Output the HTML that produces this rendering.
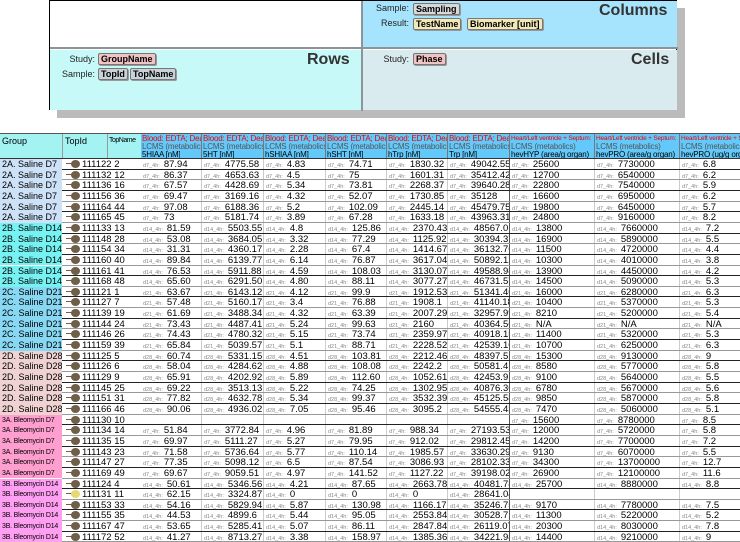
<!DOCTYPE html>
<html><head><meta charset="utf-8">
<style>
body{margin:0;width:740px;height:541px;overflow:hidden;background:#fff;font-family:"Liberation Sans",sans-serif;position:relative}
.a{position:absolute;white-space:nowrap}
.pill{position:absolute;height:10px;line-height:10px;font-size:9px;font-weight:bold;border:1px solid #777;border-radius:2px;padding:0 2px;box-shadow:1px 1px 0 #999;white-space:nowrap}
.lbl{position:absolute;font-size:9px;color:#222;text-align:right;width:60px}
.big{position:absolute;font-size:16px;font-weight:bold;color:#333;font-family:"Liberation Sans",sans-serif}
.pre{font-size:5.5px;color:#888;margin-right:4px}
.hd{position:absolute;font-size:8px;line-height:8.5px;overflow:hidden;white-space:nowrap;letter-spacing:-0.2px}
</style></head><body>
<div class="a" style="left:57px;top:8px;width:628px;height:110px;background:#bbb"></div>
<div class="a" style="left:49px;top:0;width:628px;height:110px;border:1px solid #000;box-sizing:border-box;background:#fff">
 <div class="a" style="left:312px;top:0;width:315px;height:46px;background:#a6e3fd"></div>
 <div class="a" style="left:0;top:49px;width:311px;height:60px;background:#c6f9f7"></div>
 <div class="a" style="left:313px;top:49px;width:314px;height:60px;background:#d9ebef"></div>
 <div class="a" style="left:0;top:46px;width:628px;height:2px;background:#8a9499"></div>
 <div class="a" style="left:311px;top:0;width:2px;height:110px;background:#8a9499"></div>
</div>
<div class="lbl" style="left:349px;top:3px">Sample:</div>
<div class="pill" style="left:413px;top:3px;background:#d8d8d8">Sampling</div>
<div class="lbl" style="left:349px;top:18px">Result:</div>
<div class="pill" style="left:413px;top:18px;background:#f2e9b8">TestName</div>
<div class="pill" style="left:467px;top:18px;background:#f2e9b8">Biomarker [unit]</div>
<div class="big" style="left:599px;top:2px">Columns</div>
<div class="lbl" style="left:35px;top:54px">Study:</div>
<div class="pill" style="left:98px;top:53px;background:#f0c4c4">GroupName</div>
<div class="lbl" style="left:35px;top:69px">Sample:</div>
<div class="pill" style="left:98px;top:68px;background:#c8d2d8">TopId</div>
<div class="pill" style="left:130px;top:68px;background:#c8d2d8">TopName</div>
<div class="big" style="left:307px;top:51px">Rows</div>
<div class="lbl" style="left:349px;top:54px">Study:</div>
<div class="pill" style="left:413px;top:53px;background:#f0c4c4">Phase</div>
<div class="big" style="left:631px;top:51px">Cells</div>

<div id="tbl"></div>
<script>
const groups=["2A. Saline D7","2B. Saline D14","2C. Saline D21","2D. Saline D28","3A. Bleomycin D7","3B. Bleomycin D14"];
const groupColors=["#cde1f7","#77f2f2","#88d8f4","#efd3d3","#ff9fd0","#ff9ff2"];
const phases=["d7_4h","d14_4h","d21_4h","d28_4h","d7_4h","d14_4h"];
const topIds=["111122 2","111132 12","111136 16","111156 36","111164 44","111165 45","111133 13","111148 28","111154 34","111160 40","111161 41","111168 48","111121 1","111127 7","111139 19","111144 24","111146 26","111159 39","111125 5","111126 6","111129 9","111145 25","111151 31","111166 46","111130 10","111134 14","111135 15","111143 23","111147 27","111169 49","111124 4","111131 11","111153 33","111155 35","111167 47","111172 52"];
const colTests=["5HIAA [nM]","5HT [nM]","hSHIAA [nM]","hSHT [nM]","hTrp [nM]","Trp [nM]","hevHYP (area/g organ)","hevPRO (area/g organ)","hevPRO (ug/g organ)"];
const v5HIAA=["87.94","86.37","67.57","69.47","97.08","73","81.59","53.08","31.31","89.84","76.53","65.60","63.67","57.48","61.69","73.43","74.43","65.84","60.74","58.04","65.91","69.22","77.82","90.06","","51.84","69.97","71.58","77.35","69.67","50.61","62.15","54.16","44.53","53.65","41.27"];
const v5HT=["4775.58","4653.63","4428.69","3169.16","6188.36","5181.74","5503.55","3684.05","4360.17","6139.77","5911.88","6291.50","6143.12","5160.17","3488.34","4487.41","4780.32","5039.57","5331.15","4284.62","4202.92","3513.13","4632.78","4936.02","","3772.84","5111.27","5736.64","5098.12","9059.51","5346.56","3324.87","5829.94","4899.6","5285.41","8713.27"];
const vH5HIAA=["4.83","4.5","5.34","4.32","5.2","3.89","4.8","3.32","2.28","6.14","4.59","4.80","4.12","3.4","4.32","5.24","5.15","5.1","4.51","4.88","5.89","5.22","5.34","7.05","","4.96","5.27","5.77","6.5","4.97","4.21","0","5.87","5.44","5.07","3.38"];
const vH5HT=["74.71","75","73.81","52.07","102.09","67.28","125.86","77.29","67.4","76.87","108.03","88.11","99.9","76.88","63.39","99.63","73.74","88.71","103.81","108.08","112.60","74.25","99.37","95.46","","81.89","79.95","110.14","87.54","141.52","87.65","0","130.98","95.05","86.11","158.97"];
const vHTrp=["1830.32","1601.31","2268.37","1730.85","2445.14","1633.18","2370.43","1125.92","1414.67","3617.04","3130.07","3077.27","1912.53","1908.1","2007.29","2160","2359.97","2228.52","2212.46","2242.2","1052.61","1302.95","3532.39","3095.2","","988.34","912.02","1985.57","3086.93","1127.22","2663.78","0","1166.17","2553.84","2847.84","1385.36"];
const vTrp=["49042.55","35412.42","39640.28","35128","45479.75","43963.31","48567.01","30394.37","36132.76","50892.12","49588.98","46731.57","51341.46","41140.18","32957.99","40364.56","40918.15","42539.16","48397.51","50581.4","42453.91","40876.36","45125.58","54555.43","","27193.53","29812.45","33630.29","28102.33","39198.02","40481.78","28641.04","35246.75","30528.71","26119.07","34221.98"];
const vHYP=["25600","12700","22800","16600","19800","24800","13800","16900","11500","10300","13900","14500","16000","10400","8210","N/A","11400","10700","15300","8580","9100","6780","9850","7470","15600","12000","14200","9130","34300","26900","25700","","9170","11300","20300","14400"];
const vPRO=["7730000","6540000","7540000","6950000","6450000","9160000","7660000","5890000","4720000","4010000","4450000","5090000","6280000","5370000","5200000","N/A","5320000","6250000","9130000","5770000","5640000","5670000","5870000","5060000","8780000","5720000","7700000","6070000","13700000","12100000","8880000","","7780000","5220000","8030000","9210000"];
const vPROug=["6.8","6.2","5.9","6.2","5.7","8.2","7.2","5.5","4.4","3.8","4.2","5.3","6.3","5.3","5.4","N/A","5.3","6.3","9","5.8","5.5","5.6","5.8","5.1","8.5","5.8","7.2","5.5","12.7","11.6","8.8","","7.5","5.2","7.8","9"];
const series=[v5HIAA,v5HT,vH5HIAA,vH5HT,vHTrp,vTrp,vHYP,vPRO,vPROug];
const colX=[141,202,264,326,387,448,510,595,680,741];
const top0=159, rh=10.65, hTop=133;
const T=document.getElementById('tbl');
function add(html,css,name,inter){const d=document.createElement('div');d.innerHTML=html;d.style.cssText='position:absolute;white-space:nowrap;overflow:hidden;'+css;


T.appendChild(d);return d;}
add('','left:0;top:'+hTop+'px;width:741px;height:1px;background:#555','table-top-border',false);
add('<span style="position:absolute;left:2px;top:2px;font-size:9px">Group</span>','left:0;top:'+(hTop+1)+'px;width:62px;height:25px;background:#a3f3f3;border-right:1px solid #999','group-header',true);
add('<span style="position:absolute;left:2px;top:2px;font-size:9px">TopId</span>','left:63px;top:'+(hTop+1)+'px;width:44px;height:25px;background:#a3f3f3;border-right:1px solid #999','topid-header',true);
add('<span style="position:absolute;left:1px;top:3px;font-size:7px;letter-spacing:-0.5px">TopName</span>','left:108px;top:'+(hTop+1)+'px;width:33px;height:25px;background:#a3f3f3','topname-header',true);
for(let c=0;c<9;c++){
  const heart=c>=6;
  const l1=heart?'Heart/Left ventricle + Septum:':'Blood: EDTA; Dead';
  const html='<div class="hd" style="left:1px;top:1px;color:#e00;'+(heart?'font-size:6.5px':'')+'">'+l1+'</div><div class="hd" style="left:1px;top:9px;color:#555">LCMS (metabolics)</div><div class="hd" style="left:1px;top:17px;color:#000">'+colTests[c]+'</div>';
  add(html,'left:'+colX[c]+'px;top:'+(hTop+1)+'px;width:'+(colX[c+1]-colX[c]-1)+'px;height:25px;background:#63c9fb;border-right:1px solid #777','column-header-'+(c+1),true);
}
add('','left:0;top:'+(top0-1)+'px;width:741px;height:1px;background:#333','header-bottom-border',false);
for(let i=0;i<topIds.length;i++){
  const g=Math.floor(i/6);const y=top0+i*rh;
  const small=g>=4;
  add('<span style="position:absolute;left:2px;top:0;font-size:'+(small?'7px':'9px')+';line-height:11px;'+(small?'letter-spacing:-0.2px':'')+'">'+groups[g]+'</span>','left:0;top:'+y+'px;width:62px;height:'+rh+'px;background:'+groupColors[g],'group-cell',false);
  const hl=(i==31)?'background:#e6d873;':'';
  add('<span style="position:absolute;left:4px;top:4px;width:7px;height:1px;background:#7a5a40"></span><span style="position:absolute;left:9px;top:1px;width:9px;height:8px;border-radius:50%;background:#6e5e4a;'+hl+'"></span><span style="position:absolute;left:20px;top:0;font-size:9.5px;line-height:11px">'+topIds[i]+'</span>','left:62px;top:'+y+'px;width:79px;height:'+rh+'px','topid-cell',true);
  for(let c=0;c<9;c++){
    const val=series[c][i];
    const html=val===''?'':'<span class="pre">'+phases[g]+':</span>'+val;
    add(html,'left:'+(colX[c]+2)+'px;top:'+y+'px;width:'+(colX[c+1]-colX[c]-3)+'px;height:'+rh+'px;font-size:9.5px;line-height:11px','value-cell',false);
    add('','left:'+(colX[c+1]-1)+'px;top:'+y+'px;width:1px;height:'+rh+'px;background:'+(c==5?'#555':'#ccc'),'cell-divider',false);
  }
  add('','left:62px;top:'+(y+rh-1)+'px;width:679px;height:1px;background:'+(i%2?'#999':'#222'),'row-line',false);
}
</script>
</body></html>
